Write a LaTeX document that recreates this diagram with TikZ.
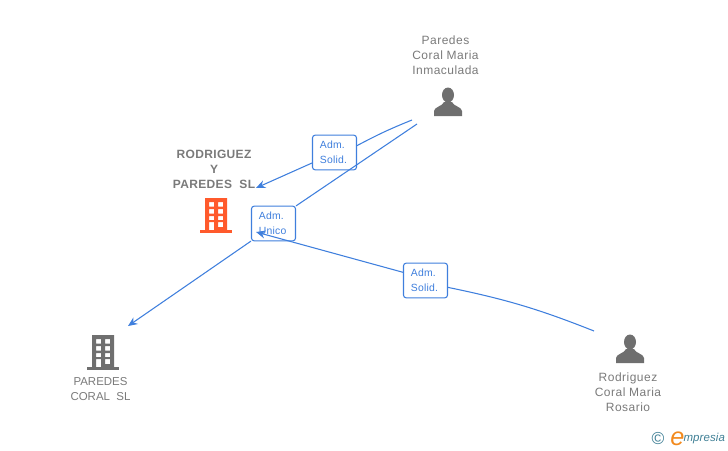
\documentclass[tikz,border=0pt]{standalone}
\usepackage{fontspec}
\setmainfont{Liberation Sans}
\usepackage{tikz}
\usetikzlibrary{arrows.meta}
\usetikzlibrary{positioning,calc}
\definecolor{linkblue}{HTML}{3F7FDD}
\definecolor{labelgrey}{HTML}{7A7A7A}
\definecolor{icongrey}{HTML}{6F6F6F}
\definecolor{orangeicon}{HTML}{FF5A2C}
\definecolor{logoteal}{HTML}{3F7F95}
\definecolor{logoorange}{HTML}{F28A1E}
\tikzset{
	role/.style={draw=linkblue, line width=0.8pt, rounded corners=2pt, fill=white, text=linkblue, minimum width=33pt, minimum height=26pt, inner ysep=0pt, inner xsep=5.6pt, text width=21.8pt, align=left, font=\fontsize{7.8}{11.6}\selectfont\addfontfeature{LetterSpace=2}},
	link/.style={draw=linkblue, line width=0.8pt},
	linkarrow/.style={link, -{Stealth[length=7pt, width=6pt]}},
	person/.style={text=labelgrey, align=center, font=\fontsize{9}{11.2}\selectfont\addfontfeature{LetterSpace=4}},
	company/.style={text=labelgrey, align=center, font=\bfseries\fontsize{9}{11.2}\selectfont\addfontfeature{LetterSpace=3}},
	companyb/.style={text=labelgrey, align=center, font=\fontsize{8.6}{11.2}\selectfont},
	pics/building/.style={code={
		\fill[#1, even odd rule] (0,0) rectangle (22,32)
			(4,4) rectangle (9,8.5) (13,4) rectangle (18,8.5)
			(4,11) rectangle (9,15.5) (13,11) rectangle (18,15.5)
			(4,18) rectangle (9,22) (13,18) rectangle (18,22)
			(4,24) rectangle (9,32) (13,24) rectangle (18,29);
		\fill[#1] (-5,32) rectangle (27,35);
	}},
	pics/head/.style={code={
		\fill[icongrey] (0,-8) ellipse (6 and 7.5);
		\fill[icongrey] (-14,13) -- (-14,8) .. controls (-14,4) and (-5,3) .. (-4,-1) -- (4,-1) .. controls (5,3) and (14,4) .. (14,8) -- (14,13) -- cycle;
	}}
}
\begin{document}
\begin{tikzpicture}[x=0.75pt, y=-0.75pt]
	\useasboundingbox (0,0) rectangle (728,450);
	% names
	\node[person] (inmaculada) at (445.5,55) {Paredes\\Coral Maria\\Inmaculada};
	\node[person] (rosario) at (628,392) {Rodriguez\\Coral Maria\\Rosario};
	\node[company] (rodriguez) at (214,169) {RODRIGUEZ\\Y\\PAREDES\ \ SL};
	\node[companyb] (paredes) at (100.5,389) {PAREDES\\CORAL\ \ SL};
	% icons
	\path (205,198) pic {building=orangeicon};
	\path (92,335) pic {building=icongrey};
	\path (448,103) pic {head};
	\path (630,350) pic {head};
	% ends of the links
	\coordinate (startA) at (412,120);
	\coordinate (startB) at (417,124);
	\coordinate (startC) at (594,331);
	\coordinate (endA) at (256,188);
	\coordinate (endB) at (128,326);
	\coordinate (endC) at (256,232);
	% roles
	\node[role] (solidA) at (334.5,152.5) {Adm.\\Solid.};
	\node[role] (unico) at (273.5,223.5) {Adm.\\Unico};
	\node[role] (solidC) at (425.5,280.5) {Adm.\\Solid.};
	% links
	\draw[link] (startA) to[bend right=3] (solidA.17);
	\draw[linkarrow] (solidA.205) -- (endA);
	\draw[link] (startB) -- (unico.38);
	\draw[linkarrow] (unico.218) -- (endB);
	\draw[link] (startC) to[bend right=5] (solidC.-17);
	\draw[linkarrow] (solidC.160) -- (endC);
	% logo
	\node[text=logoteal, inner sep=0pt, font=\fontsize{13}{13}\selectfont] (copyr) at (658,438.5) {©};
	\node[right=4pt of copyr.east, anchor=west, inner sep=0pt, text=logoorange, font=\itshape\fontsize{19}{19}\selectfont] (logoe) {e};
	\node[right=-1pt of logoe.east, anchor=west, inner sep=0pt, text=logoteal, font=\itshape\fontsize{8.6}{10}\selectfont\addfontfeature{LetterSpace=1}] (logotext) {mpresia};
\end{tikzpicture}
\end{document}
